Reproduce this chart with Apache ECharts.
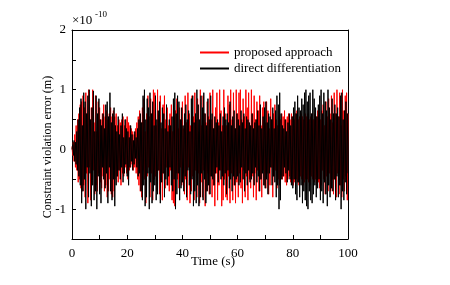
<!DOCTYPE html>
<html><head><meta charset="utf-8">
<script src="https://cdn.jsdelivr.net/npm/echarts@6/dist/echarts.min.js"></script>
<style>html,body{margin:0;padding:0;background:#fff}#c{width:450px;height:285px}</style>
</head><body><div id="c"></div>
<script>
// sampling: t = 0, 0.25, ..., 100 s ; values in units of 1e-10 m
const tStart = 0, tStep = 0.25;
const proposed = [
 0.05,-0.1,0.12,-0.2,0.25,-0.3,0.4,-0.35,0.5,-0.55,0.6,-0.5,0.75,-0.65,0.8,-0.7,0.9,-0.6,0.7,-0.8,
 0.95,-0.4,0.6,-0.9,1.0,-0.3,0.5,-0.85,0.7,-0.55,1.0,-0.35,0.45,-0.75,0.9,-0.6,0.3,-0.7,0.8,-0.4,
 0.7,-0.55,0.5,-0.65,0.6,-0.45,0.75,-0.7,0.55,-0.6,0.65,-0.8,0.5,-0.7,0.6,-0.5,0.7,-0.75,0.55,-0.8,
 0.65,-0.7,0.55,-0.5,0.6,-0.45,0.4,-0.55,0.5,-0.35,0.45,-0.6,0.5,-0.4,0.55,-0.45,0.4,-0.3,0.5,-0.4,
 0.55,-0.5,0.45,-0.35,0.4,-0.3,0.35,-0.25,0.3,-0.35,0.25,-0.3,0.35,-0.4,0.45,-0.5,0.55,-0.6,0.65,-0.7,
 0.45,-0.8,0.7,-0.35,0.85,-0.5,0.3,-0.9,0.6,-0.45,0.9,-0.3,0.55,-0.8,0.85,-0.4,0.6,-0.85,1.0,-0.5,
 0.95,-0.45,0.4,-0.7,1.0,-0.35,0.6,-0.75,0.9,-0.5,0.35,-0.85,0.75,-0.4,0.9,-0.65,0.5,-0.3,0.7,-0.6,
 0.4,-0.7,0.6,-0.35,0.75,-0.85,0.3,-0.9,0.55,-0.95,0.65,-0.4,0.85,-0.5,0.35,-0.65,0.7,-0.3,0.5,-0.6,
 0.8,-0.4,0.35,-0.75,0.9,-0.5,0.45,-0.85,0.95,-0.3,0.6,-0.9,0.4,-0.7,0.9,-0.45,0.55,-0.85,0.95,-0.35,
 0.5,-0.8,0.85,-0.4,0.3,-0.9,1.0,-0.55,0.4,-0.8,0.9,-0.35,0.6,-0.95,0.45,-0.7,0.8,-0.4,0.55,-0.75,
 0.95,-0.45,0.5,-0.8,1.0,-0.6,0.35,-0.95,0.7,-0.4,0.95,-0.85,0.45,-0.6,1.0,-0.35,0.65,-0.95,0.4,-0.85,
 1.0,-0.5,0.6,-0.8,0.4,-0.85,0.9,-0.45,0.75,-0.9,1.0,-0.4,0.5,-0.85,0.95,-0.6,0.35,-0.9,1.0,-0.55,
 0.6,-0.8,0.95,-0.4,1.0,-0.65,0.5,-0.9,0.85,-0.35,0.55,-0.8,1.0,-0.45,0.7,-0.85,0.95,-0.5,0.4,-0.65,
 1.0,-0.45,0.6,-0.8,0.9,-0.4,0.5,-0.85,0.8,-0.35,0.65,-0.7,0.9,-0.5,0.4,-0.8,0.7,-0.35,0.8,-0.6,
 0.45,-0.65,0.8,-0.4,0.65,-0.75,0.35,-0.6,0.85,-0.3,0.5,-0.8,0.6,-0.45,0.75,-0.35,0.5,-0.65,0.4,-0.5,
 0.55,-0.6,0.5,-0.45,0.6,-0.5,0.55,-0.45,0.65,-0.55,0.5,-0.6,0.55,-0.5,0.6,-0.45,0.5,-0.55,0.6,-0.5,
 0.55,-0.6,0.5,-0.55,0.6,-0.5,0.65,-0.55,0.5,-0.6,0.55,-0.45,0.6,-0.5,0.55,-0.6,0.5,-0.55,0.6,-0.5,
 0.55,-0.5,0.6,-0.55,0.5,-0.6,0.55,-0.45,0.6,-0.5,0.5,-0.55,0.6,-0.5,0.55,-0.6,0.65,-0.55,0.6,-0.65,
 0.5,-0.6,0.65,-0.35,0.75,-0.5,0.4,-0.75,0.8,-0.45,0.55,-0.7,0.85,-0.4,0.6,-0.7,0.9,-0.5,0.45,-0.75,
 0.95,-0.5,0.6,-0.8,1.0,-0.4,0.55,-0.75,0.95,-0.6,0.4,-0.8,1.0,-0.5,0.65,-0.7,0.9,-0.45,0.95,-0.85,
 0.6
];
const direct = [
 0,0.08,-0.1,0.15,-0.2,0.12,-0.25,0.3,-0.35,0.5,-0.45,0.7,-0.6,0.85,-0.9,0.4,-0.7,0.95,-0.5,0.8,
 -1.0,0.6,-0.3,0.9,-0.8,1.0,-0.4,0.5,-0.95,0.7,-0.6,0.98,-0.85,0.3,-0.7,0.9,-1.0,0.6,-0.45,0.85,
 -0.75,0.5,-0.9,0.4,-0.3,0.6,-0.5,0.35,-0.65,0.75,-0.4,0.8,-0.9,0.55,-0.3,0.95,-0.7,0.45,-0.85,0.6,
 -0.5,0.7,-0.95,0.4,-0.6,0.3,-0.45,0.55,-0.35,0.25,-0.5,0.4,-0.3,0.6,-0.55,0.2,-0.4,0.5,-0.25,0.35,
 -0.45,0.3,-0.6,0.2,-0.3,0.4,-0.2,0.25,-0.35,0.15,-0.25,0.3,-0.15,0.2,-0.3,0.35,-0.45,0.5,-0.4,0.6,
 -0.7,0.45,-0.85,0.9,-0.6,1.0,-0.95,0.5,-0.8,0.85,-0.4,0.7,-1.0,0.95,-0.55,0.6,-0.9,0.8,-0.7,0.4,
 -0.6,0.9,-0.85,0.5,-0.75,0.65,-0.35,0.8,-0.9,0.45,-0.55,0.7,-0.4,0.6,-0.8,0.35,-0.5,0.75,-0.6,0.3,
 -0.45,0.5,-0.3,0.4,-0.6,0.55,-0.7,0.85,-0.5,0.95,-1.0,0.6,-0.75,0.9,-0.4,0.8,-0.85,0.5,-0.65,0.7,
 -0.55,0.4,-0.7,0.6,-0.45,0.75,-0.8,0.5,-0.35,0.65,-0.6,0.3,-0.75,0.85,-0.5,0.9,-0.95,0.45,-0.7,0.6,
 -0.9,1.0,-0.6,0.75,-0.95,0.5,-0.8,0.9,-0.4,0.7,-0.85,0.95,-0.5,0.6,-0.9,0.4,-0.7,0.85,-0.6,0.5,
 -0.75,0.9,-0.45,0.6,-0.5,0.35,-0.6,0.55,-0.4,0.45,-0.3,0.5,-0.55,0.4,-0.35,0.6,-0.5,0.3,-0.45,0.55,
 -0.6,0.7,-0.4,0.5,-0.75,0.6,-0.35,0.45,-0.65,0.8,-0.5,0.4,-0.7,0.55,-0.45,0.65,-0.6,0.35,-0.5,0.6,
 -0.45,0.5,-0.6,0.4,-0.55,0.65,-0.3,0.45,-0.5,0.6,-0.7,0.35,-0.4,0.55,-0.6,0.5,-0.35,0.45,-0.55,0.4,
 -0.5,0.6,-0.4,0.35,-0.6,0.45,-0.3,0.5,-0.55,0.65,-0.45,0.4,-0.7,0.75,-0.5,0.35,-0.4,0.55,-0.6,0.7,
 -0.65,0.8,-0.5,0.45,-0.75,0.6,-0.4,0.55,-0.3,0.5,-0.6,0.7,-0.45,0.35,-0.55,0.65,-0.8,0.9,-0.6,0.75,
 -1.0,0.95,-0.85,0.6,-0.5,0.4,-0.45,0.35,-0.3,0.5,-0.4,0.3,-0.55,0.45,-0.35,0.6,-0.5,0.4,-0.6,0.55,
 -0.65,0.7,-0.5,0.8,-0.75,0.6,-0.85,0.9,-0.55,0.7,-0.8,0.65,-0.6,0.85,-0.9,0.75,-0.7,0.95,-0.85,1.0,
 -0.95,0.8,-1.0,0.9,-0.7,0.95,-0.85,0.6,-0.9,1.0,-0.75,0.85,-0.6,0.7,-0.8,0.55,-0.65,0.75,-0.5,0.9,
 -0.85,1.0,-0.7,0.6,-0.9,0.95,-0.55,0.8,-0.75,0.65,-0.95,1.0,-0.6,0.7,-0.8,0.5,-0.65,0.85,-0.7,0.6,
 -0.5,0.75,-0.85,0.6,-0.45,0.7,-0.8,0.55,-0.6,0.9,-1.0,0.95,-0.7,0.5,-0.85,0.65,-0.55,0.8,-0.75,0.6,
 -0.4
];
const seriesNames = ['proposed approach', 'direct differentiation'];
const xLabels = [0, 20, 40, 60, 80, 100];
const yLabels = [-1, 0, 1, 2];
const yMin = -1.5, yMax = 2;

const toPairs = arr => arr.map((v, i) => [tStart + i * tStep, v]);
const font = 'Liberation Serif';
const chart = echarts.init(document.getElementById('c'), null, {renderer: 'canvas'});
chart.setOption({
  backgroundColor: '#fff',
  animation: false,
  textStyle: {fontFamily: font},
  grid: {left: 72, right: 102, top: 30, bottom: 46},
  legend: {
    data: seriesNames, orient: 'vertical', left: 195, top: 41,
    itemWidth: 29, itemHeight: 2, itemGap: 3, icon: 'rect',
    textStyle: {fontFamily: font, fontSize: 13, color: '#000'}
  },
  xAxis: [{
    type: 'value', min: xLabels[0], max: xLabels[xLabels.length-1], interval: 10,
    axisLine: {show: true, onZero: false, lineStyle: {color: '#000', width: 1}},
    axisTick: {show: true, inside: true, length: 4, lineStyle: {color: '#000'}},
    axisLabel: {color: '#000', fontSize: 13, fontFamily: font, margin: 8,
      formatter: v => xLabels.includes(v) ? String(v) : ''},
    splitLine: {show: false}
  }, {
    type: 'value', position: 'top', min: 0, max: 100,
    axisLine: {show: true, onZero: false, lineStyle: {color: '#000', width: 1}},
    axisTick: {show: false}, axisLabel: {show: false}, splitLine: {show: false}
  }],
  yAxis: [{
    type: 'value', min: yMin, max: yMax, interval: 0.5,
    axisLine: {show: true, onZero: false, lineStyle: {color: '#000', width: 1}},
    axisTick: {show: true, inside: true, length: 4, lineStyle: {color: '#000'}},
    axisLabel: {color: '#000', fontSize: 13, fontFamily: font, margin: 6,
      formatter: v => yLabels.includes(v) ? String(v) : ''},
    splitLine: {show: false}
  }, {
    type: 'value', position: 'right', min: yMin, max: yMax,
    axisLine: {show: true, onZero: false, lineStyle: {color: '#000', width: 1}},
    axisTick: {show: false}, axisLabel: {show: false}, splitLine: {show: false}
  }],
  graphic: [
    {type: 'text', x: 48, y: 147, rotation: Math.PI/2,
     style: {text: 'Constraint violation error (m)', font: '12px "Liberation Serif"', fill: '#000', textAlign: 'center', textVerticalAlign: 'middle'}},
    {type: 'text', x: 213, y: 262,
     style: {text: 'Time (s)', font: '13px "Liberation Serif"', fill: '#000', textAlign: 'center', textVerticalAlign: 'middle'}},
    {type: 'text', x: 72, y: 21,
     style: {text: '×10', font: '13px "Liberation Serif"', fill: '#000', textAlign: 'left', textVerticalAlign: 'middle'}},
    {type: 'text', x: 95, y: 15,
     style: {text: '-10', font: '9px "Liberation Serif"', fill: '#000', textAlign: 'left', textVerticalAlign: 'middle'}}
  ],
  series: [
    {name: seriesNames[0], type: 'line', data: toPairs(proposed), showSymbol: false, symbol: 'none',
     lineStyle: {color: '#ff0000', width: 1}, itemStyle: {color: '#ff0000'}},
    {name: seriesNames[1], type: 'line', data: toPairs(direct), showSymbol: false, symbol: 'none',
     lineStyle: {color: '#000000', width: 1}, itemStyle: {color: '#000000'}}
  ]
});
</script></body></html>
